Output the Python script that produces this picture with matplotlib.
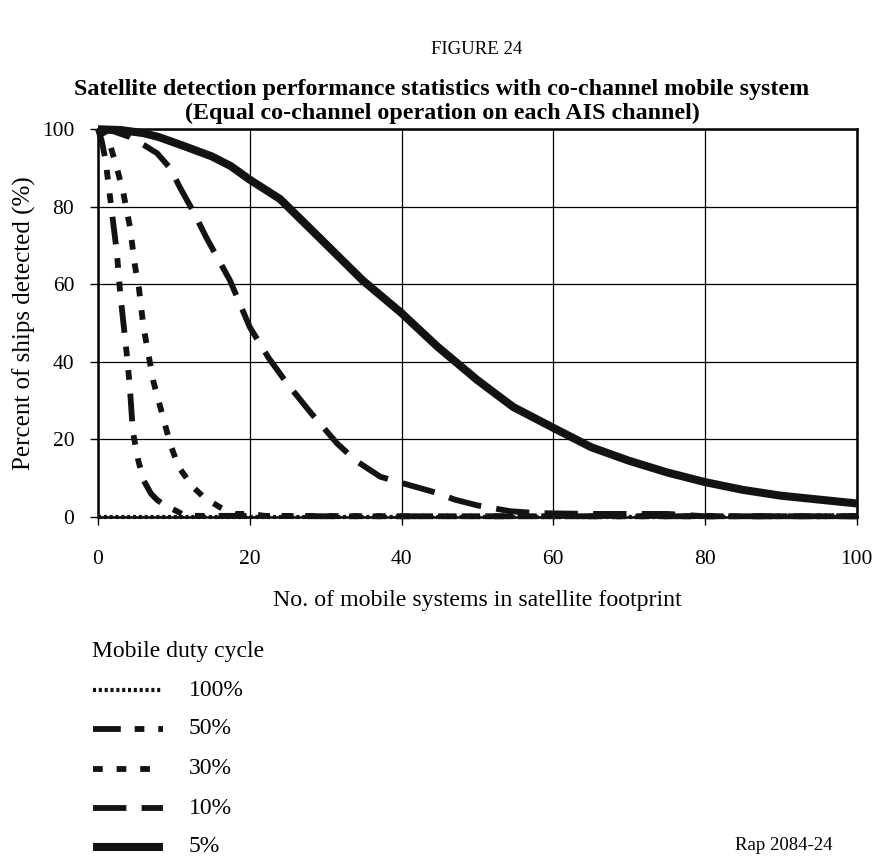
import matplotlib
matplotlib.use("Agg")
import matplotlib.pyplot as plt
from matplotlib.lines import Line2D

plt.rcParams['font.family'] = ['Liberation Serif', 'DejaVu Serif']
plt.rcParams['lines.scale_dashes'] = False

# detection curves, one per mobile duty cycle
x_100 = [0, 100]
y_100 = [0, 0]

x_50 = [0, 0.5, 1, 1.5, 2, 2.5, 2.9, 3.3, 3.8, 4.2, 4.6, 5.3, 6, 7, 7.8, 9, 10.4, 11.5, 20, 30, 50, 100]
y_50 = [100, 97, 92, 84, 76, 68, 58.5, 51, 42, 33.5, 22, 14.7, 9.5, 6, 4.4, 2.8, 1.5, 0.3, 0.3, 0.2, 0.2, 0.2]

x_30 = [0, 0.8, 1.6, 2.5, 3.3, 4.2, 4.9, 5.4, 6, 7.3, 8.4, 9.5, 10.6, 12.5, 14, 16, 18, 20, 22, 40, 100]
y_30 = [100, 99, 96, 90, 84, 75, 64.5, 59, 49, 35, 27, 19, 13, 7.8, 5, 2.6, 0.8, 0.8, 0.3, 0.2, 0.2]

x_10 = [0, 2, 4.2, 6, 7.8, 9.5, 10.8, 12.5, 14.3, 17.4, 20, 22.5, 24.9, 28, 31.5, 34, 37.2, 40, 44.7, 47, 50, 54.3, 58, 65, 75, 80, 100]
y_10 = [100, 99.5, 98, 96, 93.8, 90, 85, 79, 72, 61, 49, 41, 34.5, 27, 19, 14.5, 10.4, 8.8, 6.2, 4.5, 3, 1.5, 1, 0.8, 0.8, 0.2, 0.2]

x_5 = [0, 3, 6, 8, 11.7, 15, 17.5, 20, 24, 29.2, 34.9, 40, 44.7, 50, 54.7, 60, 65, 70, 75, 80, 85, 90, 95, 100]
y_5 = [100, 99.8, 99, 98, 95.4, 93, 90.5, 87, 82, 72, 61, 52.6, 44, 35.3, 28.4, 23, 18, 14.5, 11.5, 9, 7, 5.5, 4.5, 3.5]

labels = ['100%', '50%', '30%', '10%', '5%']
x_ticks = [0, 20, 40, 60, 80, 100]
y_ticks = [0, 20, 40, 60, 80, 100]

# dash patterns in points
styles = [
    dict(lw=3.0, ls=(0, (2.2, 2.0))),
    dict(lw=4.2, ls=(0, (20, 10, 7, 10, 7, 10))),
    dict(lw=4.2, ls=(0, (7, 10))),
    dict(lw=4.2, ls=(0, (24, 11))),
    dict(lw=5.8, ls='-'),
]

fig = plt.figure(figsize=(8.77, 8.56), dpi=100)
ax = fig.add_axes([0.1117, 0.396, 0.8653, 0.453])

series = [(x_100, y_100), (x_50, y_50), (x_30, y_30), (x_10, y_10), (x_5, y_5)]
for (xs, ys), st in zip(series, styles):
    ax.plot(xs, ys, color='#151212', lw=st['lw'], ls=st['ls'],
            solid_capstyle='butt', dash_capstyle='butt', clip_on=False, zorder=3)

ax.set_xlim(0, 100)
ax.set_ylim(0, 100)
ax.set_xticks(x_ticks)
ax.set_yticks(y_ticks)
ax.tick_params(labelsize=15.5, length=6, width=1, direction='out')
ax.tick_params(axis='x', pad=18)
ax.tick_params(axis='y', pad=11)
ax.grid(True, color='black', lw=0.9)
ax.set_axisbelow(True)
for sp in ax.spines.values():
    sp.set_linewidth(1.8)

ax.set_xlabel('No. of mobile systems in satellite footprint', fontsize=17.2, labelpad=15)
ax.set_ylabel('Percent of ships detected (%)', fontsize=18, labelpad=4)

fig.text(0.544, 0.942, 'FIGURE 24', ha='center', va='center', fontsize=13.5)
fig.text(0.504, 0.896, 'Satellite detection performance statistics with co-channel mobile system',
         ha='center', va='center', fontsize=17.3, fontweight='bold')
fig.text(0.504, 0.868, '(Equal co-channel operation on each AIS channel)',
         ha='center', va='center', fontsize=17.3, fontweight='bold')

# legend block under the plot
fig.text(0.105, 1 - 651 / 856, 'Mobile duty cycle', ha='left', va='center', fontsize=17)
rows = [690, 729, 769, 808, 847]
for lab, st, yp in zip(labels, styles, rows):
    yf = 1 - yp / 856
    fig.add_artist(Line2D([0.106, 0.186], [yf, yf], color='#151212', lw=st['lw'], ls=st['ls'],
                          solid_capstyle='butt', dash_capstyle='butt', transform=fig.transFigure))
    fig.text(0.215, yf, lab, ha='left', va='center', fontsize=17)

fig.text(0.894, 1 - 846 / 856, 'Rap 2084-24', ha='center', va='center', fontsize=13.5)

fig.savefig('out.png', dpi=100)
